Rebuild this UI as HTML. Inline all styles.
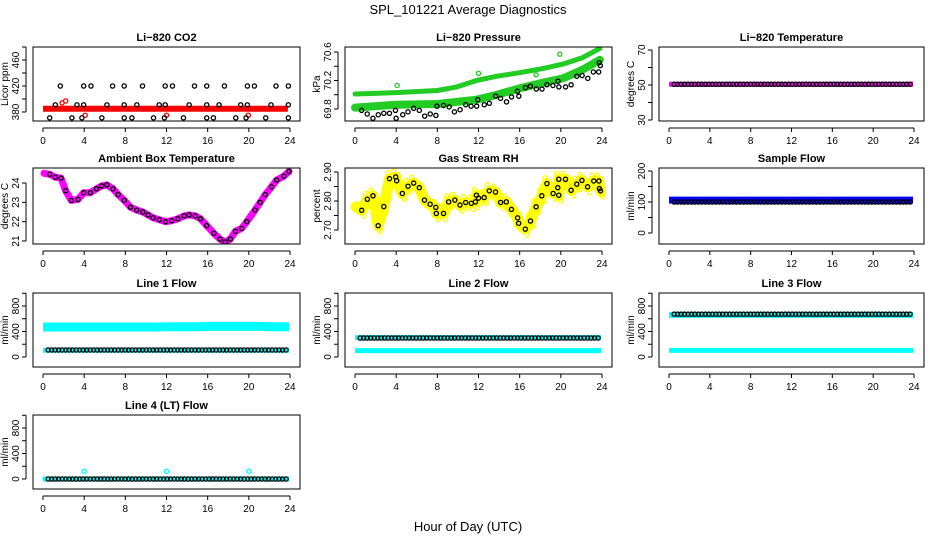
<!DOCTYPE html>
<html><head><meta charset="utf-8">
<style>
html,body{margin:0;padding:0;background:#fff;}
svg{display:block;font-family:"Liberation Sans",Arial,sans-serif;}
</style></head>
<body>
<svg id="chart" width="936" height="540" viewBox="0 0 936 540" xmlns="http://www.w3.org/2000/svg">
<rect x="0" y="0" width="936" height="540" fill="#fff"/>
<text x="468" y="14" text-anchor="middle" font-size="13">SPL_101221  Average Diagnostics</text>
<text x="468" y="531" text-anchor="middle" font-size="13">Hour of Day (UTC)</text>
</svg>
<script>
// ---------- data ----------
const xTicks = [0,4,8,12,16,20,24];
// CO2
const co2TopHours = [2.26,4.01,5.14,7.24,7.89,10.19,11.93,13.10,15.27,15.85,18.18,19.89,21.09,23.19,23.84];
const co2TopVals = [489,489,489,489,489,489,489,489,489,489,489,489,489,489,489];
const co2MidHours = [1.68,3.95,4.66,6.76,7.89,9.67,11.87,12.58,14.72,15.91,17.63,19.86,20.54,22.64,23.84];
const co2MidVals = [420,420,420,420,420,420,420,420,420,420,420,420,420,420,420];
const co2LowHours = [1.20,3.30,3.95,6.21,7.89,9.12,11.29,11.87,14.20,15.91,17.11,19.21,19.86,22.15,23.84];
const co2LowVals = [391,391,391,391,391,391,391,391,391,391,391,391,391,391,391];
const co2BotHours = [0.65,2.81,3.78,5.72,7.89,8.64,10.74,11.80,13.65,15.91,16.56,18.73,19.73,21.64,23.84];
const co2BotVals = [371,371,371,371,371,371,371,371,371,371,371,371,371,371,371];
const co2BandHours = [0,4,8,12,16,20,23.8];
const co2BandVals = [385,385,385,385,385,385,385];
const co2RedHours = [1.85,2.2,4.1,12.0,19.95];
const co2RedVals = [394,397,375,375,375];
// Pressure
const presBandHours = [0,4,8,9.9,11.8,13.8,16,18.3,20.2,22.1,23.8];
const presUpperVals = [70.01,70.03,70.06,70.11,70.20,70.26,70.31,70.37,70.43,70.52,70.65];
const presLowerVals = [69.82,69.86,69.87,69.90,69.93,70.00,70.09,70.17,70.23,70.35,70.49];
const presHours = [0.64,1.19,1.74,2.26,2.80,3.35,3.93,4.0,4.64,5.15,5.70,6.25,6.77,7.31,7.86,7.96,8.60,9.15,9.66,10.21,10.76,11.28,11.82,11.92,12.56,13.05,13.66,14.14,14.72,15.21,15.79,15.92,16.56,17.04,17.62,18.17,18.65,19.23,19.72,19.81,20.46,21.0,21.55,22.07,22.62,23.16,23.68,23.74,23.84];
const presVals = [69.78,69.73,69.67,69.72,69.74,69.74,69.78,69.67,69.72,69.76,69.81,69.78,69.70,69.73,69.71,69.84,69.85,69.83,69.76,69.79,69.86,69.84,69.84,69.93,69.86,69.88,69.98,69.95,69.90,69.97,70.05,69.98,70.10,70.12,70.08,70.08,70.14,70.13,70.19,70.11,70.11,70.14,70.26,70.27,70.23,70.32,70.32,70.45,70.41];
const presOutHours = [4.1,12.0,17.6,19.9];
const presOutVals = [70.13,70.30,70.28,70.57];
// Li-820 temperature (hourly)
const tempBandVals = [50.4,50.4,50.4,50.4,50.4,50.4,50.4,50.4,50.4,50.4,50.4,50.4,50.4,50.4,50.4,50.4,50.4,50.4,50.4,50.4,50.4,50.4,50.4,50.4];
const tempPointVals = [50.4,50.4,50.4,50.4,50.4,50.4,50.4,50.4,50.4,50.4,50.4,50.4,50.4,50.4,50.4,50.4,50.4,50.4,50.4,50.4,50.4,50.4,50.4,50.4];
// Ambient box temperature
const ambHours = [0.65,1.2,1.75,2.2,2.75,3.4,3.95,4.6,5.2,5.7,6.2,6.8,7.3,7.9,8.5,9.1,9.7,10.2,10.7,11.3,11.9,12.5,13.1,13.7,14.2,14.8,15.3,15.9,16.6,17.2,17.7,18.2,18.7,19.3,19.8,20.6,21.1,21.6,22.2,22.7,23.4,23.9];
const ambVals = [24.45,24.3,24.25,23.6,23.1,23.15,23.5,23.5,23.7,23.85,23.9,23.7,23.4,23.1,22.75,22.6,22.5,22.35,22.2,22.1,22.0,22.05,22.15,22.3,22.35,22.3,22.15,21.8,21.4,21.1,20.95,21.1,21.5,21.65,22.0,22.6,23.0,23.4,23.8,24.15,24.35,24.6];
// Gas stream RH
const rhHours = [0.65,1.2,1.75,2.25,2.8,3.35,3.95,4.05,4.6,5.15,5.7,6.25,6.75,7.3,7.85,7.9,8.6,9.1,9.7,10.2,10.75,11.3,11.7,11.8,12.0,12.55,13.05,13.65,14.15,14.7,15.2,15.8,15.9,16.55,17.05,17.6,18.15,18.65,19.25,19.7,19.8,19.8,20.45,21.0,21.55,22.05,22.6,23.2,23.7,23.75,23.85];
const rhVals = [2.768,2.806,2.818,2.715,2.781,2.877,2.883,2.870,2.826,2.851,2.862,2.846,2.803,2.789,2.778,2.757,2.757,2.797,2.803,2.786,2.795,2.792,2.797,2.820,2.810,2.812,2.835,2.831,2.795,2.797,2.771,2.742,2.723,2.703,2.731,2.780,2.818,2.860,2.826,2.846,2.820,2.875,2.875,2.837,2.858,2.871,2.849,2.869,2.869,2.843,2.835];
// Sample flow (hourly)
const sampleBandVals = [106,106,106,106,106,106,106,106,106,106,106,106,106,106,106,106,106,106,106,106,106,106,106,106];
const samplePointVals = [100,100,100,100,100,100,100,100,100,100,100,100,100,100,100,100,100,100,100,100,100,100,100,100];
// Line flows (hourly)
const line1HighVals = [470,470,470,470,470,470,470,470,470,470,470,470,475,475,475,475,480,480,480,480,480,480,475,475];
const line1LowVals = [105,105,105,105,105,105,105,105,105,105,105,105,105,105,105,105,105,105,105,105,105,105,105,105];
const line1PointVals = [110,110,110,110,110,110,110,110,110,110,110,110,110,110,110,110,110,110,110,110,110,110,110,110];
const line2HighVals = [305,305,305,305,305,305,305,305,305,305,305,305,305,305,305,305,305,305,305,305,305,305,305,305];
const line2LowVals = [100,100,100,100,100,100,100,100,100,100,100,100,100,100,100,100,100,100,100,100,100,100,100,100];
const line2PointVals = [298,298,298,298,298,298,298,298,298,298,298,298,298,298,298,298,298,298,298,298,298,298,298,298];
const line3HighVals = [660,660,660,660,660,660,660,660,660,660,660,660,660,660,660,660,660,660,660,660,660,660,660,660];
const line3LowVals = [104,104,104,104,104,104,104,104,104,104,104,104,104,104,104,104,104,104,104,104,104,104,104,104];
const line3PointVals = [672,672,672,672,672,672,672,672,672,672,672,672,672,672,672,672,672,672,672,672,672,672,672,672];
const line4BandVals = [0,0,0,0,0,0,0,0,0,0,0,0,0,0,0,0,0,0,0,0,0,0,0,0];
const line4PointVals = [0,0,0,0,0,0,0,0,0,0,0,0,0,0,0,0,0,0,0,0,0,0,0,0];
const line4OutHours = [0.2,4.0,12.0,20.0];
const line4OutVals = [0,120,120,120];

// ---------- drawing ----------
const NS = 'http://www.w3.org/2000/svg';
const svg = document.getElementById('chart');
function mk(tag, attrs, parent){
  const e = document.createElementNS(NS, tag);
  for (const k in attrs) e.setAttribute(k, attrs[k]);
  (parent||svg).appendChild(e);
  return e;
}
const cols = [[33,300],[345,612],[659,924]];
const rows = [[47,121],[168,244],[293,367],[415,489]];

function makePanel(name, title, ylab, c, r, v0, p0, v1, p1, yTicks, yLabels){
  const [L,R] = cols[c], [T,B] = rows[r];
  const g = mk('g', {});
  
  
  const P = {g:g, L:L, R:R, T:T, B:B,
    x: h => (L+10) + h*((R-10)-(L+10))/24,
    y: v => p0 + (v-v0)*(p1-p0)/(v1-v0)};
  const cl = mk('clipPath', {id:'clip-'+name}, g);
  mk('rect', {x:L, y:T, width:R-L, height:B-T}, cl);
  P.plot = mk('g', {'clip-path':'url(#clip-'+name+')'}, g);
  
  
  const box = mk('rect', {x:L, y:T, width:R-L, height:B-T, fill:'none', stroke:'#000', 'stroke-width':1}, g);
  
  
  const t = mk('text', {x:(L+R)/2, y:T-6, 'text-anchor':'middle', 'font-size':11, 'font-weight':'bold'}, g);
  t.textContent = title;
  
  
  const xa = mk('g', {}, g);
  
  
  mk('line', {x1:P.x(0), x2:P.x(24), y1:B+7, y2:B+7, stroke:'#000'}, xa);
  xTicks.forEach(h => {
    mk('line', {x1:P.x(h), x2:P.x(h), y1:B+7, y2:B+11, stroke:'#000'}, xa);
    const tl = mk('text', {x:P.x(h), y:B+23, 'text-anchor':'middle', 'font-size':10}, xa);
    tl.textContent = h;
    
    
  });
  const ya = mk('g', {}, g);
  
  
  const ax = L-7;
  mk('line', {x1:ax, x2:ax, y1:P.y(yTicks[0]), y2:P.y(yTicks[yTicks.length-1]), stroke:'#000'}, ya);
  yTicks.forEach(v => mk('line', {x1:ax-4, x2:ax, y1:P.y(v), y2:P.y(v), stroke:'#000'}, ya));
  yLabels.forEach(v => {
    const yy = P.y(v);
    const tl = mk('text', {x:0, y:0, 'text-anchor':'middle', 'font-size':10, transform:'translate('+(ax-7)+','+yy+') rotate(-90)'}, ya);
    tl.textContent = v;
    
    
  });
  const yl = mk('text', {x:0, y:0, 'text-anchor':'middle', 'font-size':10, transform:'translate('+(L-25)+','+((T+B)/2)+') rotate(-90)'}, g);
  yl.textContent = ylab;
  
  
  return P;
}
function band(P, hours, vals, color, w, nm, cap){
  const pts = hours.map((h,i) => P.x(h).toFixed(1)+','+P.y(vals[i]).toFixed(1)).join(' ');
  const e = mk('polyline', {points:pts, fill:'none', stroke:color, 'stroke-width':w, 'stroke-linejoin':'round', 'stroke-linecap':cap||'round'}, P.plot);
  
  
}
function hourlyBand(P, vals, color, w, nm){
  const hs = vals.map((v,i)=>i).concat([23.9]);
  band(P, hs.map(h=>Math.max(0,h)), vals.concat([vals[vals.length-1]]), color, w, nm, 'butt');
}
function pts(P, hours, vals, color, nm){
  hours.forEach((h,i) => {
    const c = mk('circle', {cx:P.x(h), cy:P.y(vals[i]), r:2.1, fill:'none', stroke:color, 'stroke-width':1.3}, P.plot);
    
    
  });
}
function hourlyPts(P, vals, color, nm){
  const hs = [], vs = [];
  for (let h = 0.5; h <= 23.9; h += 0.34){ hs.push(h); vs.push(vals[Math.min(23, Math.floor(h))]); }
  pts(P, hs, vs, color, nm);
}

let P = makePanel('co2', 'Li\u2212820 CO2', 'Licor ppm', 0, 0, 380, 112, 460, 60, [380,400,420,440,460,480], [380,420,460]);
band(P, co2BandHours, co2BandVals, '#ff0000', 6, 'co2-red-band', 'butt');
pts(P, co2RedHours, co2RedVals, '#ff0000', 'co2-red-point');
pts(P, co2TopHours, co2TopVals, '#000', 'co2-point');
pts(P, co2MidHours, co2MidVals, '#000', 'co2-point');
pts(P, co2LowHours, co2LowVals, '#000', 'co2-point');
pts(P, co2BotHours, co2BotVals, '#000', 'co2-point');

P = makePanel('pressure', 'Li\u2212820 Pressure', 'kPa', 1, 0, 69.8, 109, 70.6, 52, [69.8,70.0,70.2,70.4,70.6], ['69.8','70.2','70.6']);
band(P, presBandHours, presUpperVals, '#22cc22', 5, 'pressure-upper-band');
band(P, presBandHours, presLowerVals, '#22cc22', 8, 'pressure-lower-band');
pts(P, presOutHours, presOutVals, '#22cc22', 'pressure-green-point');
pts(P, presHours, presVals, '#000', 'pressure-point');

P = makePanel('li820-temp', 'Li\u2212820 Temperature', 'degrees C', 2, 0, 30, 120, 70, 50, [30,40,50,60,70], [30,50,70]);
hourlyBand(P, tempBandVals, '#ff00ff', 5, 'temp-magenta-band');
hourlyPts(P, tempPointVals, '#000', 'temp-point');

P = makePanel('ambient-temp', 'Ambient Box Temperature', 'degrees C', 0, 1, 21, 241, 24, 183, [21,22,23,24], [21,22,23,24]);
band(P, [0.1].concat(ambHours), [24.5].concat(ambVals), '#ff00ff', 7, 'ambient-magenta-band');
pts(P, ambHours, ambVals, '#000', 'ambient-point');

P = makePanel('gas-rh', 'Gas Stream RH', 'percent', 1, 1, 2.70, 230, 2.90, 172, [2.70,2.75,2.80,2.85,2.90], ['2.70','2.80','2.90']);
band(P, [0.1].concat(rhHours), [2.78].concat(rhVals), '#ffff00', 11, 'rh-yellow-band');
pts(P, rhHours.map(h=>h+0.2), rhVals.map(v=>v-0.02), '#ffff00', 'rh-yellow-point');
pts(P, rhHours.map(h=>h-0.2), rhVals.map(v=>v+0.02), '#ffff00', 'rh-yellow-point');
pts(P, rhHours, rhVals, '#000', 'rh-point');

P = makePanel('sample-flow', 'Sample Flow', 'ml/min', 2, 1, 0, 233, 200, 171, [0,50,100,150,200], [0,100,200]);
hourlyBand(P, sampleBandVals, '#0000ff', 7, 'sample-blue-band');
hourlyPts(P, samplePointVals, '#000', 'sample-point');

P = makePanel('line1-flow', 'Line 1 Flow', 'ml/min', 0, 2, 0, 357, 800, 306, [0,200,400,600,800,1000], [0,400,800]);
hourlyBand(P, line1HighVals, '#00ffff', 9, 'line1-high-band');
hourlyBand(P, line1LowVals, '#00ffff', 5, 'line1-low-band');
hourlyPts(P, line1PointVals, '#000', 'line1-point');

P = makePanel('line2-flow', 'Line 2 Flow', 'ml/min', 1, 2, 0, 357, 800, 306, [0,200,400,600,800,1000], [0,400,800]);
hourlyBand(P, line2HighVals, '#00ffff', 5, 'line2-high-band');
hourlyBand(P, line2LowVals, '#00ffff', 5, 'line2-low-band');
hourlyPts(P, line2PointVals, '#000', 'line2-point');

P = makePanel('line3-flow', 'Line 3 Flow', 'ml/min', 2, 2, 0, 357, 800, 306, [0,200,400,600,800,1000], [0,400,800]);
hourlyBand(P, line3HighVals, '#00ffff', 6, 'line3-high-band');
hourlyBand(P, line3LowVals, '#00ffff', 5, 'line3-low-band');
hourlyPts(P, line3PointVals, '#000', 'line3-point');

P = makePanel('line4-flow', 'Line 4 (LT) Flow', 'ml/min', 0, 3, 0, 479, 800, 428, [0,200,400,600,800,1000], [0,400,800]);
hourlyBand(P, line4BandVals, '#00ffff', 5, 'line4-band');
pts(P, line4OutHours, line4OutVals, '#00ffff', 'line4-cyan-point');
hourlyPts(P, line4PointVals, '#000', 'line4-point');
</script>
</body></html>
